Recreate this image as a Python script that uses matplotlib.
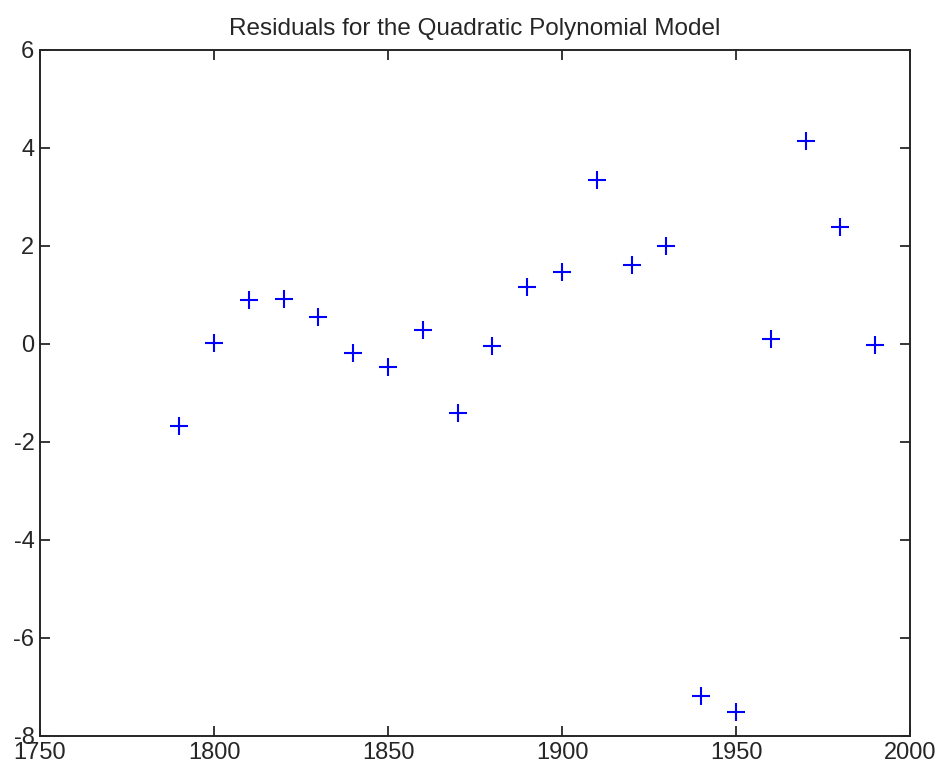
import matplotlib
matplotlib.use("Agg")
import matplotlib.pyplot as plt

years = [1790, 1800, 1810, 1820, 1830, 1840, 1850, 1860, 1870, 1880,
         1890, 1900, 1910, 1920, 1930, 1940, 1950, 1960, 1970, 1980, 1990]
residuals = [-1.67, 0.02, 0.90, 0.92, 0.55, -0.18, -0.47, 0.29, -1.41, -0.04,
             1.16, 1.47, 3.35, 1.61, 2.00, -7.18, -7.51, 0.10, 4.14, 2.39, -0.02]
x_ticks = [1750, 1800, 1850, 1900, 1950, 2000]
y_ticks = [-8, -6, -4, -2, 0, 2, 4, 6]

plt.rcParams['font.family'] = ['Liberation Sans', 'DejaVu Sans']
plt.rcParams['axes.unicode_minus'] = False

fig = plt.figure(figsize=(9.46, 7.73), dpi=100)
ax = fig.add_axes([40 / 946, 1 - 736 / 773, 870 / 946, 686 / 773])

ax.plot(years, residuals, linestyle='none', marker='+', color='#0000ff',
        markersize=13.5, markeredgewidth=1.5)

ax.set_xlim(1750, 2000)
ax.set_ylim(-8, 6)
ax.set_xticks(x_ticks)
ax.set_yticks(y_ticks)
ax.tick_params(direction='in', top=True, right=True, length=7.5, width=1.3,
               labelsize=17, colors='#262626', pad=4)
for s in ax.spines.values():
    s.set_linewidth(1.4)
    s.set_color('#262626')
ax.set_title('Residuals for the Quadratic Polynomial Model', fontsize=17.5,
             color='#262626', pad=11)

fig.savefig('out.png', dpi=100)
